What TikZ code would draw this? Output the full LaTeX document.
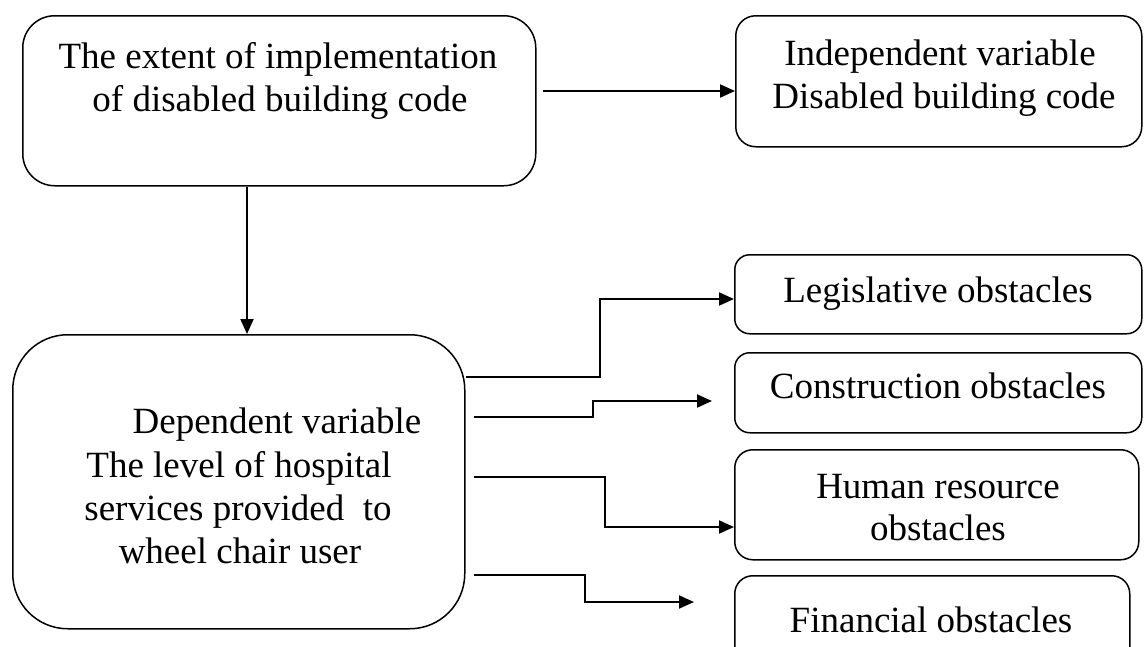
\documentclass[tikz,border=0pt]{standalone}
\usepackage{fontspec}
\setmainfont{Liberation Serif}
\usetikzlibrary{arrows.meta}
\begin{document}
\begin{tikzpicture}[x=1pt,y=-1pt,
  box/.style={draw, line width=1.5pt, rounded corners=#1, inner sep=0pt, anchor=north west},
  lbl/.style={anchor=base, inner sep=0pt, font=\fontsize{37}{43}\selectfont},
  conn/.style={line width=2pt, -{Triangle[length=15pt,width=13pt]}}]
\useasboundingbox (0,0) rectangle (1144,646);
\clip (0,0) rectangle (1144,646);

% boxes
\node[box=32pt, minimum width=513pt, minimum height=170pt] (ext) at (22,15) {};
\node[box=20pt, minimum width=406pt, minimum height=131pt] (ind) at (735,15) {};
\node[box=55pt, minimum width=452pt, minimum height=294pt] (dep) at (12,334) {};
\node[box=15pt, minimum width=407pt, minimum height=79pt]  (leg) at (734,254) {};
\node[box=15pt, minimum width=407pt, minimum height=80pt]  (con) at (734,352) {};
\node[box=18pt, minimum width=404pt, minimum height=110pt] (hum) at (734,449) {};
\node[box=18pt, minimum width=395pt, minimum height=100pt] (fin) at (734,575) {};

% texts
\node[lbl] (ext1) at (278,68)  {The extent of implementation};
\node[lbl] (ext2) at (280,111) {of disabled building code};
\node[lbl] (ind1) at (940,65)  {Independent variable};
\node[lbl] (ind2) at (944,108) {Disabled building code};
\node[lbl] (dep1) at (277,433) {Dependent variable};
\node[lbl] (dep2) at (239,477) {The level of hospital};
\node[lbl] (dep3) at (238,520) {services provided\ \ to};
\node[lbl] (dep4) at (240,563) {wheel chair user};
\node[lbl] (leg1) at (938,302) {Legislative obstacles};
\node[lbl] (con1) at (938,398) {Construction obstacles};
\node[lbl] (hum1) at (938,498) {Human resource};
\node[lbl] (hum2) at (938,540) {obstacles};
\node[lbl] (fin1) at (931,632) {Financial obstacles};

% connectors
\coordinate (s0) at (543,91);
\coordinate (vx) at (247,0);
\coordinate (s2) at (474,417);
\coordinate (s3) at (474,477);
\coordinate (s4) at (474,575);
\coordinate (e2) at (712,0);
\coordinate (e4) at (694,0);

\draw[conn] (s0) -- (s0 -| ind.west);
\draw[conn] (ext.south -| vx) -- (dep.north -| vx);
\draw[conn] (dep.east |- 0,377) -- (600,377) -- (600,299) -- (leg.west |- 0,299);
\draw[conn] (s2) -- (593,417) -- (593,401) -- (e2 |- 0,401);
\draw[conn] (s3) -- (605,477) -- (605,527) -- (hum.west |- 0,527);
\draw[conn] (s4) -- (585,575) -- (585,602) -- (e4 |- 0,602);
\end{tikzpicture}
\end{document}
